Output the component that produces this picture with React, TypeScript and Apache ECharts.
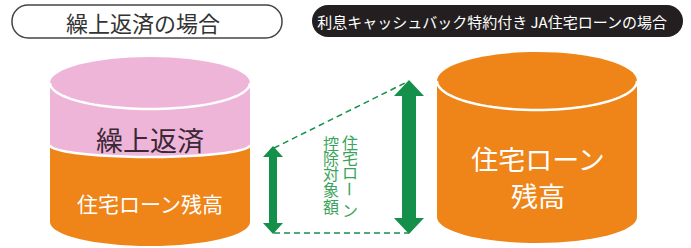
import React, { useEffect, useRef } from "react";
import * as echarts from "echarts";

const titles = ["繰上返済の場合", "利息キャッシュバック特約付き JA住宅ローンの場合"];
const leftLabels = ["繰上返済", "住宅ローン残高"];
const rightLabels = ["住宅ローン", "残高"];
const colLabelA = ["住", "宅", "ロ", "ー", "ン"];
const colLabelB = ["控", "除", "対", "象", "額"];

const PINK = "#EFB5D9";
const ORANGE = "#EF8419";
const GREEN = "#14904A";
const GREEN_TXT = "#3AA35A";
const FONT = "'Noto Sans CJK JP', 'Noto Sans', sans-serif";

function lowerArc(cx: number, cy: number, rx: number, ry: number, n = 48) {
  const pts: number[][] = [];
  for (let i = 0; i <= n; i++) {
    const t = (Math.PI * i) / n;
    pts.push([cx + rx * Math.cos(t), cy + ry * Math.sin(t)]);
  }
  return pts;
}

function arrow(x: number, y1: number, y2: number, hw: number, hh: number, sw: number) {
  return [
    [x, y1], [x + hw / 2, y1 + hh], [x + sw / 2, y1 + hh], [x + sw / 2, y2 - hh],
    [x + hw / 2, y2 - hh], [x, y2], [x - hw / 2, y2 - hh], [x - sw / 2, y2 - hh],
    [x - sw / 2, y1 + hh], [x - hw / 2, y1 + hh],
  ];
}

export default function App() {
  const ref = useRef<HTMLDivElement>(null);
  useEffect(() => {
    document.body.style.margin = "0";
    const chart = echarts.init(ref.current!, null, { renderer: "svg" });
    const els: any[] = [];
    // titles
    els.push({ type: "rect", shape: { x: 12, y: 5, width: 270, height: 33, r: 16 }, style: { fill: "#fff", stroke: "#444", lineWidth: 1.5 } });
    els.push({ type: "text", x: 143, y: 22, style: { text: titles[0], font: `22px ${FONT}`, fill: "#333", align: "center", verticalAlign: "middle" } });
    els.push({ type: "rect", shape: { x: 312, y: 5, width: 371, height: 32, r: 16 }, style: { fill: "#231F20" } });
    els.push({ type: "text", x: 492, y: 21, style: { text: titles[1], font: `15px ${FONT}`, fill: "#fff", align: "center", verticalAlign: "middle" } });

    // left cylinder
    const L = { cx: 150, rx: 100, top: 83, topRy: 26, div: 145, divRy: 12, bot: 222, botRy: 24 };
    els.push({ type: "ellipse", shape: { cx: L.cx, cy: L.bot, rx: L.rx, ry: L.botRy }, style: { fill: ORANGE } });
    els.push({ type: "rect", shape: { x: L.cx - L.rx, y: L.div, width: 2 * L.rx, height: L.bot - L.div }, style: { fill: ORANGE } });
    els.push({ type: "rect", shape: { x: L.cx - L.rx, y: L.top, width: 2 * L.rx, height: L.div - L.top }, style: { fill: PINK } });
    els.push({ type: "ellipse", shape: { cx: L.cx, cy: L.div, rx: L.rx, ry: L.divRy }, style: { fill: PINK } });
    els.push({ type: "polyline", shape: { points: lowerArc(L.cx, L.div, L.rx, L.divRy) }, style: { stroke: "#fff", lineWidth: 2.5, fill: null } });
    els.push({ type: "ellipse", shape: { cx: L.cx, cy: L.top, rx: L.rx, ry: L.topRy }, style: { fill: PINK } });
    els.push({ type: "polyline", shape: { points: lowerArc(L.cx, L.top, L.rx, L.topRy) }, style: { stroke: "#fff", lineWidth: 2.5, fill: null } });
    els.push({ type: "text", x: 150, y: 139, style: { text: leftLabels[0], font: `27px ${FONT}`, fill: "#3A2836", align: "center", verticalAlign: "middle" } });
    els.push({ type: "text", x: 150, y: 203, style: { text: leftLabels[1], font: `21px ${FONT}`, fill: "#fff", align: "center", verticalAlign: "middle" } });

    // right cylinder
    const R = { cx: 537, rx: 100, top: 81, topRy: 29, bot: 217, botRy: 26 };
    els.push({ type: "ellipse", shape: { cx: R.cx, cy: R.bot, rx: R.rx, ry: R.botRy }, style: { fill: ORANGE } });
    els.push({ type: "rect", shape: { x: R.cx - R.rx, y: R.top, width: 2 * R.rx, height: R.bot - R.top }, style: { fill: ORANGE } });
    els.push({ type: "ellipse", shape: { cx: R.cx, cy: R.top, rx: R.rx, ry: R.topRy }, style: { fill: ORANGE } });
    els.push({ type: "polyline", shape: { points: lowerArc(R.cx, R.top, R.rx, R.topRy) }, style: { stroke: "#fff", lineWidth: 2.5, fill: null } });
    els.push({ type: "text", x: 538, y: 158, style: { text: rightLabels[0], font: `27px ${FONT}`, fill: "#fff", align: "center", verticalAlign: "middle" } });
    els.push({ type: "text", x: 538, y: 195, style: { text: rightLabels[1], font: `27px ${FONT}`, fill: "#fff", align: "center", verticalAlign: "middle" } });

    // arrows & dashed lines
    els.push({ type: "line", shape: { x1: 274, y1: 148, x2: 407, y2: 82 }, style: { stroke: GREEN, lineWidth: 1.5, lineDash: [6, 4] } });
    els.push({ type: "line", shape: { x1: 274, y1: 233, x2: 409, y2: 233 }, style: { stroke: GREEN, lineWidth: 1.5, lineDash: [6, 4] } });
    els.push({ type: "polygon", shape: { points: arrow(273, 146, 234, 20, 11, 8) }, style: { fill: GREEN } });
    els.push({ type: "polygon", shape: { points: arrow(409, 80, 234, 30, 16, 14) }, style: { fill: GREEN } });
    // vertical label columns
    const yA = [142, 157, 172, 189, 210];
    colLabelA.forEach((c, i) => {
      els.push({ type: "text", x: 350, y: yA[i], rotation: c === "ー" ? -Math.PI / 2 : 0, style: { text: c, font: `16px ${FONT}`, fill: GREEN_TXT, align: "center", verticalAlign: "middle" } });
    });
    const yB = [143, 158, 173, 189, 206];
    colLabelB.forEach((c, i) => {
      els.push({ type: "text", x: 331, y: yB[i], style: { text: c, font: `16px ${FONT}`, fill: GREEN_TXT, align: "center", verticalAlign: "middle" } });
    });

    chart.setOption({ animation: false, graphic: { elements: els } });
    return () => chart.dispose();
  }, []);
  return <div ref={ref} style={{ width: 691, height: 248, background: "#fff" }} />;
}
